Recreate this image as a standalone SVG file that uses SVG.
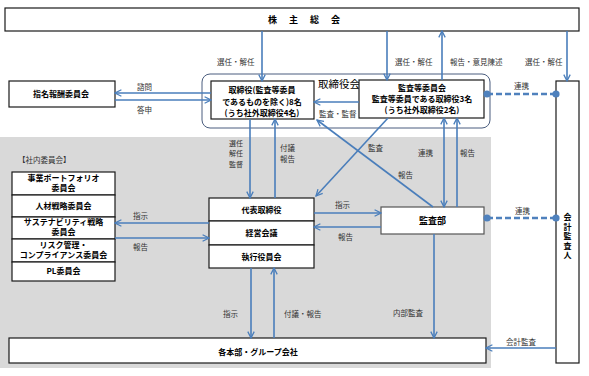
<svg xmlns="http://www.w3.org/2000/svg" width="589" height="376" viewBox="0 0 589 376">
<style>
text{font-family:"Noto Sans CJK JP","Noto Sans",sans-serif;}
.box{fill:#fff;stroke:#1a1a1a;stroke-width:1.2;}
.nt{font-size:8px;font-weight:bold;fill:#000;text-anchor:middle;}
.el{font-size:7.5px;fill:#333;}
.c{fill:none;stroke:#4a7ebb;stroke-width:1.6;}
.d{fill:none;stroke:#4f81bd;stroke-width:2.6;stroke-dasharray:6 3;}
</style>
<defs>
<marker id="ah" viewBox="0 0 10 10" refX="9" refY="5" markerWidth="8" markerHeight="8" markerUnits="userSpaceOnUse" orient="auto-start-reverse">
<path d="M1,1 L9,5 L1,9" fill="none" stroke="#4a7ebb" stroke-width="1.6"/>
</marker>
<marker id="dot" viewBox="0 0 10 10" refX="5" refY="5" markerWidth="8" markerHeight="8" markerUnits="userSpaceOnUse">
<circle cx="5" cy="5" r="4.5" fill="#4f81bd"/>
</marker>
</defs>
<rect x="0" y="0" width="589" height="376" fill="#fff"/>
<rect x="0" y="137" width="491" height="231" fill="#d9d9d9"/>

<g id="shareholders">
<rect class="box" x="5" y="8" width="574" height="23"/>
<text x="268 289 310 331" y="23" style="font-size:9px;font-weight:bold">株主総会</text>
</g>

<g id="board-frame">
<rect x="202" y="74" width="288" height="54" rx="8" fill="none" stroke="#4a5d7e" stroke-width="1"/>
<text x="318" y="88" style="font-size:10.5px;fill:#000">取締役会</text>
</g>

<g id="nomination">
<rect class="box" x="9" y="81" width="106" height="26"/>
<text class="nt" x="61" y="97">指名報酬委員会</text>
</g>

<g id="directors">
<rect class="box" x="211" y="81" width="103" height="38"/>
<text class="nt" x="262" y="93">取締役(監査等委員</text>
<text class="nt" x="262" y="105">であるものを除く)8名</text>
<text class="nt" x="262" y="116">(うち社外取締役4名)</text>
</g>

<g id="audit-committee">
<rect class="box" x="359" y="80" width="125" height="38"/>
<text class="nt" x="422" y="91">監査等委員会</text>
<text class="nt" x="422" y="102">監査等委員である取締役3名</text>
<text class="nt" x="422" y="113">(うち社外取締役2名)</text>
</g>

<g id="accounting-auditor">
<rect class="box" x="556" y="81" width="23" height="282"/>
<text class="nt" x="567.5" y="220"><tspan x="567.5">会</tspan><tspan x="567.5" dy="9.6">計</tspan><tspan x="567.5" dy="9.6">監</tspan><tspan x="567.5" dy="9.6">査</tspan><tspan x="567.5" dy="9.6">人</tspan></text>
</g>

<g id="internal-committees">
<text x="18" y="163" style="font-size:7.5px;fill:#333">【社内委員会】</text>
<rect class="box" x="12" y="172" width="103" height="23"/>
<text class="nt" x="63.5" y="181">事業ポートフォリオ</text>
<text class="nt" x="63.5" y="191">委員会</text>
<rect class="box" x="12" y="195" width="103" height="22"/>
<text class="nt" x="63.5" y="209">人材戦略委員会</text>
<rect class="box" x="12" y="217" width="103" height="22"/>
<text class="nt" x="63.5" y="225">サステナビリティ戦略</text>
<text class="nt" x="63.5" y="235">委員会</text>
<rect class="box" x="12" y="239" width="103" height="23"/>
<text class="nt" x="63.5" y="248">リスク管理・</text>
<text class="nt" x="63.5" y="258">コンプライアンス委員会</text>
<rect class="box" x="12" y="262" width="103" height="19"/>
<text class="nt" x="63.5" y="274">PL委員会</text>
</g>

<g id="executives">
<rect class="box" x="209" y="198" width="105" height="23"/>
<text class="nt" x="261.5" y="212.5">代表取締役</text>
<rect class="box" x="209" y="221" width="105" height="24"/>
<text class="nt" x="261.5" y="236">経営会議</text>
<rect class="box" x="209" y="245" width="105" height="23"/>
<text class="nt" x="261.5" y="259.5">執行役員会</text>
</g>

<g id="audit-dept">
<rect x="381" y="207" width="103" height="27" fill="#fff" stroke="#555" stroke-width="1.2"/>
<text class="nt" x="432.5" y="224" style="font-size:9px">監査部</text>
</g>

<g id="divisions">
<rect class="box" x="9" y="338" width="477" height="25"/>
<text class="nt" x="258" y="355">各本部・グループ会社</text>
</g>

<g id="connectors">
<line class="c" x1="262" y1="31" x2="262" y2="81" marker-end="url(#ah)"/>
<line class="c" x1="387" y1="31" x2="387" y2="80" marker-end="url(#ah)"/>
<line class="c" x1="442" y1="80" x2="442" y2="31" marker-end="url(#ah)"/>
<line class="c" x1="567" y1="31" x2="567" y2="81" marker-end="url(#ah)"/>
<line class="c" x1="211" y1="93" x2="115" y2="93" marker-end="url(#ah)"/>
<line class="c" x1="115" y1="100" x2="211" y2="100" marker-end="url(#ah)"/>
<line class="c" x1="359" y1="102" x2="314" y2="102" marker-end="url(#ah)"/>
<line class="d" x1="487" y1="94" x2="556" y2="94" marker-start="url(#dot)" marker-end="url(#dot)"/>
<line class="c" x1="250" y1="119" x2="250" y2="198" marker-end="url(#ah)"/>
<line class="c" x1="275" y1="198" x2="275" y2="119" marker-end="url(#ah)"/>
<line class="c" x1="388" y1="118" x2="316" y2="196" marker-end="url(#ah)"/>
<line class="c" x1="433" y1="207" x2="317" y2="120" marker-end="url(#ah)"/>
<line class="c" x1="444" y1="118" x2="444" y2="207" marker-start="url(#ah)" marker-end="url(#ah)"/>
<line class="c" x1="457" y1="207" x2="457" y2="118" marker-end="url(#ah)"/>
<line class="c" x1="314" y1="213" x2="381" y2="213" marker-end="url(#ah)"/>
<line class="c" x1="381" y1="227" x2="314" y2="227" marker-end="url(#ah)"/>
<line class="d" x1="487" y1="218" x2="556" y2="218" marker-start="url(#dot)" marker-end="url(#dot)"/>
<line class="c" x1="209" y1="223" x2="115" y2="223" marker-end="url(#ah)"/>
<line class="c" x1="115" y1="238" x2="209" y2="238" marker-end="url(#ah)"/>
<line class="c" x1="251" y1="268" x2="251" y2="338" marker-end="url(#ah)"/>
<line class="c" x1="274" y1="338" x2="274" y2="268" marker-end="url(#ah)"/>
<line class="c" x1="434" y1="234" x2="434" y2="338" marker-end="url(#ah)"/>
<line class="c" x1="556" y1="348" x2="486" y2="348" marker-end="url(#ah)"/>

<text class="el" x="217" y="65">選任・解任</text>
<text class="el" x="395" y="65">選任・解任</text>
<text class="el" x="450" y="65">報告・意見陳述</text>
<text class="el" x="525" y="65">選任・解任</text>
<text class="el" x="137" y="90">諮問</text>
<text class="el" x="137" y="113">答申</text>
<text class="el" x="319" y="117">監査・監督</text>
<text class="el" x="514" y="89">連携</text>
<text class="el" x="229" y="146" style="font-size:7px"><tspan x="229">選任</tspan><tspan x="229" dy="10.4">解任</tspan><tspan x="229" dy="10.4">監督</tspan></text>
<text class="el" x="280" y="151"><tspan x="280">付議</tspan><tspan x="280" dy="11">報告</tspan></text>
<text class="el" x="368" y="151">監査</text>
<text class="el" x="398" y="178">報告</text>
<text class="el" x="418" y="156">連携</text>
<text class="el" x="460" y="156">報告</text>
<text class="el" x="335" y="208">指示</text>
<text class="el" x="338" y="240">報告</text>
<text class="el" x="515" y="214">連携</text>
<text class="el" x="133" y="219">指示</text>
<text class="el" x="133" y="250">報告</text>
<text class="el" x="223" y="317">指示</text>
<text class="el" x="284" y="317">付議・報告</text>
<text class="el" x="393" y="316">内部監査</text>
<text class="el" x="506" y="345">会計監査</text>
</g>
</svg>
